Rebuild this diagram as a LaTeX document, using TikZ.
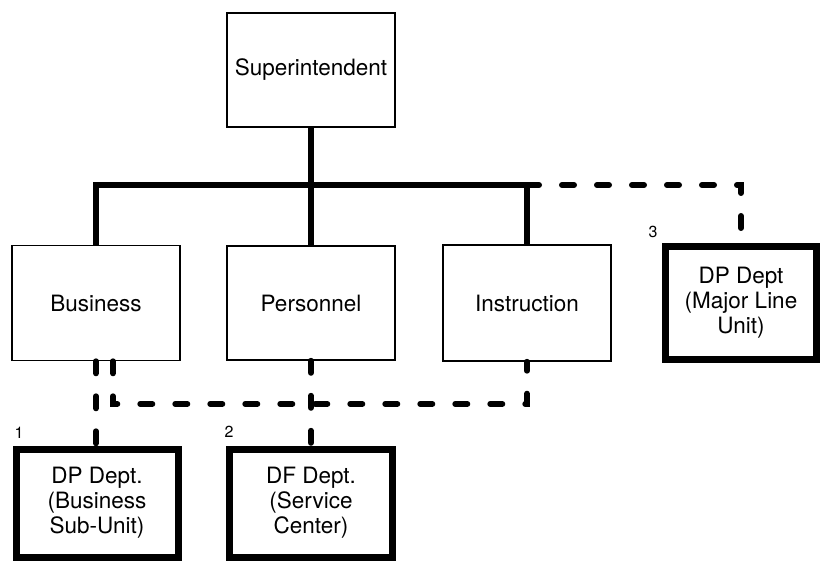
\documentclass[tikz,border=0pt]{standalone}
\usepackage{fontspec}
\setmainfont{TeX Gyre Heros}
\begin{document}
\begin{tikzpicture}[x=1pt,y=-1pt,
  box/.style={draw, line width=1.6pt, minimum width=168pt, minimum height=114pt, inner sep=0pt, align=center, font=\fontsize{22.5}{25}\selectfont},
  dpbox/.style={box, line width=7pt},
  solidline/.style={line width=6pt},
  dashline/.style={line width=6pt, line cap=round, dash pattern=on 12pt off 23pt},
  num/.style={font=\fontsize{16}{18}\selectfont, inner sep=0pt}]
\useasboundingbox (0,0) rectangle (827,564);
\node[box] (sup) at (311,70) {Superintendent};
\node[box, minimum height=115pt] (bus) at (96,303) {Business};
\node[box] (per) at (311,303) {Personnel};
\node[box, minimum height=116pt] (ins) at (527,303) {Instruction};
\node[dpbox, minimum width=151pt, minimum height=113pt] (dp3) at (741,303) {DP Dept\\(Major Line\\Unit)};
\node[dpbox, minimum width=162pt, minimum height=108pt] (dp1) at (97,503) {DP Dept.\\(Business\\Sub-Unit)};
\node[dpbox, minimum width=163pt, minimum height=108pt] (dp2) at (311,503) {DF Dept.\\(Service\\Center)};
\node[num] (n1) at (19,433) {1};
\node[num] (n2) at (229,432) {2};
\node[num] (n3) at (653,232) {3};
\coordinate (j) at (311,185);
\coordinate (row) at (0,404);
\coordinate (bs2) at ([xshift=17pt]bus.south);
\draw[solidline] (sup.south) -- (per.north);
\draw[solidline] (bus.north) |- (j) -| (ins.north);
\draw[dashline] (ins.north |- j) -| (dp3.north);
\draw[dashline] (bus.south) -- (bus.south |- dp1.north);
\draw[dashline] (bs2) |- (row -| ins.south) -- (ins.south);
\draw[dashline] (per.south) -- (dp2.north);
\end{tikzpicture}
\end{document}
